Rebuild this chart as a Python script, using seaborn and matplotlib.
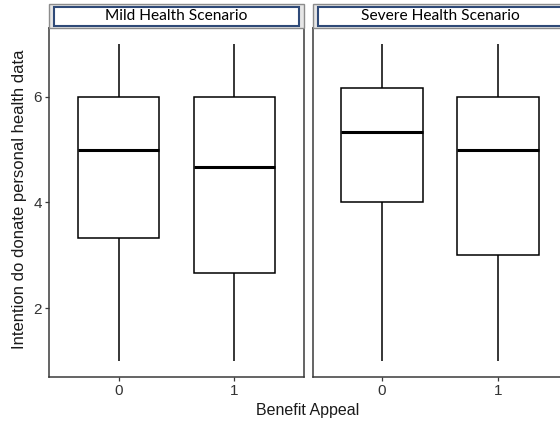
import matplotlib
matplotlib.use("Agg")
import matplotlib.pyplot as plt
import seaborn as sns
import pandas as pd
from matplotlib.patches import Rectangle

# Five-number summaries (min, Q1, median, Q3, max)
scenarios = ["Mild Health Scenario", "Severe Health Scenario"]
benefit_levels = ["0", "1"]
mild_0 = [1.0, 3.33, 5.0, 6.0, 7.0]
mild_1 = [1.0, 2.67, 4.67, 6.0, 7.0]
severe_0 = [1.0, 4.0, 5.33, 6.17, 7.0]
severe_1 = [1.0, 3.0, 5.0, 6.0, 7.0]
y_ticks = [2, 4, 6]

rows = []
for scen, groups in zip(scenarios, [[mild_0, mild_1], [severe_0, severe_1]]):
    for lvl, vals in zip(benefit_levels, groups):
        for v in vals:
            rows.append({"scenario": scen, "benefit": lvl, "intention": v})
df = pd.DataFrame(rows)

sns.set_theme(style="white")
plt.rcParams["font.family"] = ["Liberation Sans", "DejaVu Sans"]

W, H = 560, 421
fig = plt.figure(figsize=(W / 100, H / 100), dpi=100)

def px_axes(x0, x1, ytop, ybot):
    return fig.add_axes([x0 / W, (H - ybot) / H, (x1 - x0) / W, (ybot - ytop) / H])

ax_l = px_axes(49, 304, 28, 377)
ax_r = px_axes(312.5, 567.5, 28, 377)

for ax, scen in zip([ax_l, ax_r], scenarios):
    sub = df[df["scenario"] == scen]
    sns.boxplot(data=sub, x="benefit", y="intention", order=benefit_levels, ax=ax,
                color="white", linecolor="black", linewidth=1.1, width=0.7,
                saturation=1, whis=1.5, showfliers=False, showcaps=False,
                medianprops={"linewidth": 2.2, "color": "black"})
    ax.set_xlim(-0.6, 1.6)
    ax.set_ylim(0.7, 7.3)
    ax.set_xlabel("")
    ax.set_ylabel("")
    ax.set_yticks(y_ticks)
    for s in ax.spines.values():
        s.set_visible(True)
        s.set_color("#3a3a3a")
        s.set_linewidth(1.1)
    ax.tick_params(axis="both", which="both", length=3, width=0.9, color="#3a3a3a",
                   labelsize=11, labelcolor="#333333", pad=2, left=True, bottom=True)
    ax.grid(False)
    # strip
    axh = 349.0
    axw = 255.0
    outer = Rectangle((0, 1), 1, 24 / axh, transform=ax.transAxes, clip_on=False,
                      facecolor="#e6e6e6", edgecolor="#8c8c8c", linewidth=1.0, zorder=3)
    ax.add_patch(outer)
    inner = Rectangle((5 / axw, 1 + 2 / axh), 1 - 10 / axw, 19 / axh, transform=ax.transAxes,
                      clip_on=False, facecolor="white", edgecolor="#2f4a78", linewidth=1.5, zorder=4)
    ax.add_patch(inner)
    ax.text(0.5, 1 + 11.5 / axh, scen, transform=ax.transAxes, ha="center", va="center",
            fontsize=11.2, family=["Lato", "DejaVu Sans"], color="black", zorder=5)

ax_r.tick_params(axis="y", left=False, labelleft=False)

fig.text(308 / W, (H - 410) / H, "Benefit Appeal", ha="center", va="center",
         fontsize=11.5, color="#1a1a1a")
fig.text(20 / W, (H - 199) / H, "Intention do donate personal health data", ha="center",
         va="center", rotation=90, fontsize=12, color="#1a1a1a")

fig.savefig("out.png", dpi=100)
